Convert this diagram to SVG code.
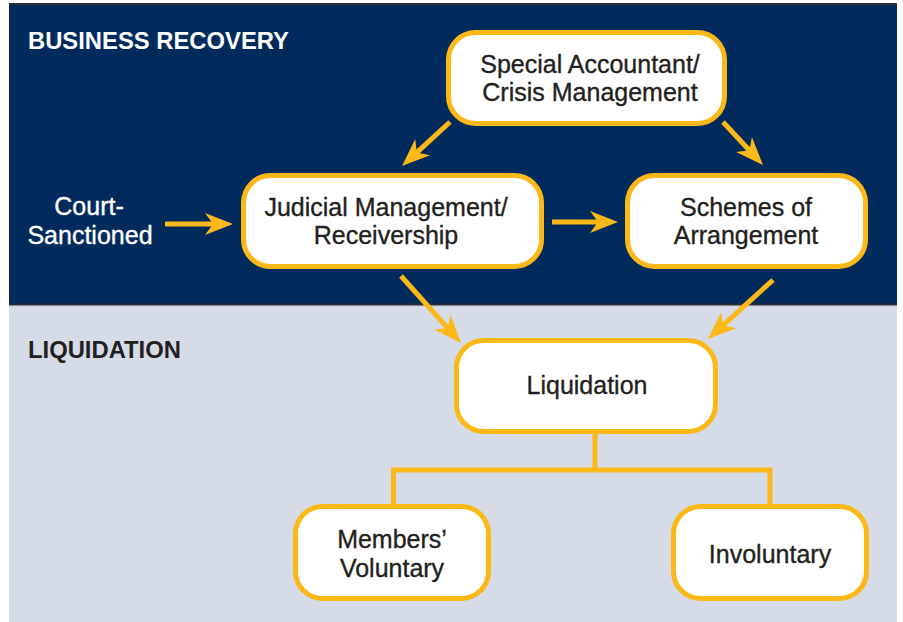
<svg xmlns="http://www.w3.org/2000/svg" width="903" height="622" viewBox="0 0 903 622">
  <style>
    .box { fill: #ffffff; stroke: #fbb817; stroke-width: 5; }
    .conn { fill: none; stroke: #fbb817; stroke-width: 5; }
    .t { font-family: "Liberation Sans", Arial, sans-serif; font-size: 25px; fill: #231f20; stroke: #231f20; stroke-width: 0.35; text-anchor: middle; }
    .w { fill: #ffffff; stroke: #ffffff; }
    .h { font-family: "Liberation Sans", Arial, sans-serif; font-size: 23.8px; font-weight: bold; }
  </style>
  <defs>
    <marker id="arr" markerUnits="userSpaceOnUse" markerWidth="28" markerHeight="22" viewBox="0 0 28 22" refX="10" refY="11" orient="auto">
      <path d="M0,0 L28,11 L0,22 L8,11 Z" fill="#fbb817"/>
    </marker>
  </defs>
  <rect width="903" height="622" fill="#ffffff"/>
  <g id="panels">
    <rect x="9" y="3" width="888" height="302" fill="#022b5d"/>
    <rect x="9" y="3" width="888" height="2" fill="#2b2d33"/>
    <rect x="9" y="305" width="888" height="317" fill="#d5dce8"/>
    <rect x="9" y="303.5" width="888" height="2" fill="#2b2d33"/>
    <text class="h" x="28" y="49" fill="#ffffff">BUSINESS RECOVERY</text>
    <text class="h" x="28" y="358" fill="#231f20">LIQUIDATION</text>
  </g>
  <g id="connectors">
    <line class="conn" x1="165" y1="224" x2="215" y2="224" marker-end="url(#arr)"/>
    <line class="conn" x1="552" y1="222" x2="600" y2="222" marker-end="url(#arr)"/>
    <line class="conn" x1="450" y1="122" x2="415.3" y2="153.8" marker-end="url(#arr)"/>
    <line class="conn" x1="723" y1="122" x2="750.7" y2="151.8" marker-end="url(#arr)"/>
    <line class="conn" x1="401" y1="276" x2="449" y2="329.6" marker-end="url(#arr)"/>
    <line class="conn" x1="773" y1="280" x2="721.3" y2="326.9" marker-end="url(#arr)"/>
    <path class="conn" d="M595,434 V470 M393.5,470 H770 M393.5,467.5 V506 M770,467.5 V506"/>
  </g>
  <g id="court-sanctioned">
    <text class="t w" x="89" y="215">Court-</text>
    <text class="t w" x="90" y="244">Sanctioned</text>
  </g>
  <g id="special-accountant">
    <rect class="box" x="448.5" y="32.5" width="276" height="91" rx="27"/>
    <text class="t" x="590" y="73">Special Accountant/</text>
    <text class="t" x="590" y="101">Crisis Management</text>
  </g>
  <g id="judicial-management">
    <rect class="box" x="243.5" y="175.5" width="298" height="91" rx="27"/>
    <text class="t" x="386" y="216">Judicial Management/</text>
    <text class="t" x="386" y="244">Receivership</text>
  </g>
  <g id="schemes-of-arrangement">
    <rect class="box" x="627.5" y="175.5" width="238" height="91" rx="27"/>
    <text class="t" x="746" y="216">Schemes of</text>
    <text class="t" x="746" y="244">Arrangement</text>
  </g>
  <g id="liquidation">
    <rect class="box" x="456.5" y="340.5" width="259" height="91" rx="27"/>
    <text class="t" x="587" y="394">Liquidation</text>
  </g>
  <g id="members-voluntary">
    <rect class="box" x="295.5" y="506.5" width="193" height="92" rx="27"/>
    <text class="t" x="392" y="548">Members’</text>
    <text class="t" x="392" y="577">Voluntary</text>
  </g>
  <g id="involuntary">
    <rect class="box" x="673.5" y="506.5" width="193" height="92" rx="27"/>
    <text class="t" x="770" y="563">Involuntary</text>
  </g>
</svg>
